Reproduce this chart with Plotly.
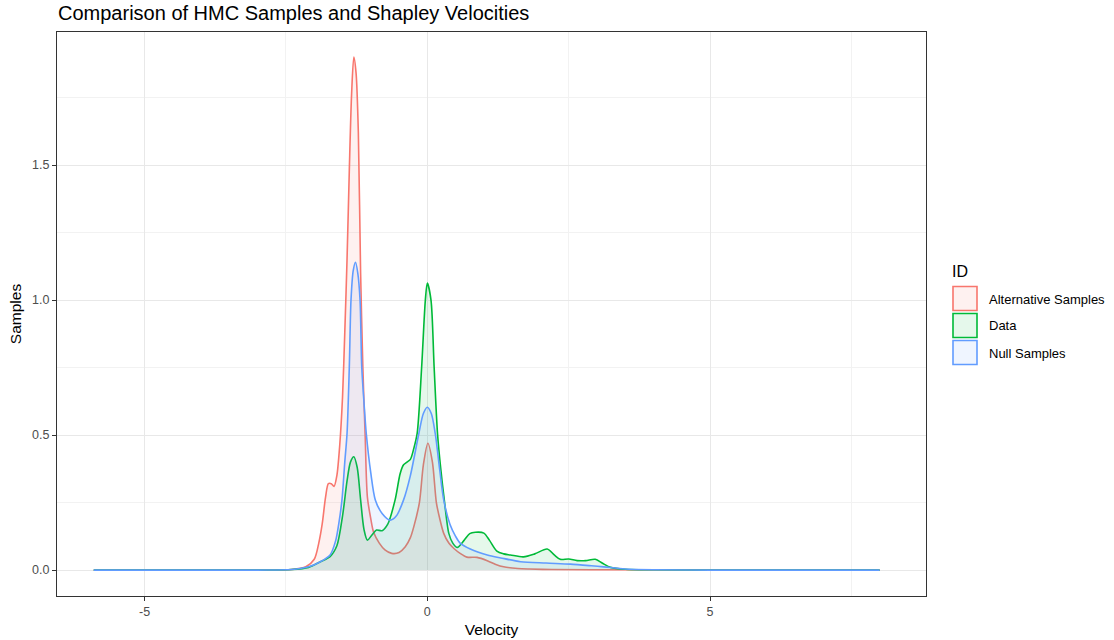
import plotly.graph_objects as go

# ---- data ----
series_names = ["Alternative Samples", "Data", "Null Samples"]

alt_v = [-5.9, -3.0, -2.4, -2.15, -2.0, -1.92, -1.86, -1.8, -1.75, -1.7, -1.65, -1.6, -1.55, -1.5,
         -1.46, -1.42, -1.38, -1.34, -1.30, -1.26, -1.22, -1.18, -1.14, -1.10, -1.06, -1.0, -0.95,
         -0.85, -0.75, -0.63, -0.5, -0.39, -0.3, -0.24, -0.14, -0.07, 0.01, 0.09, 0.16, 0.22, 0.29,
         0.38, 0.47, 0.58, 0.7, 0.88, 1.06, 1.2, 1.35, 1.6, 1.8, 2.2, 3.0, 8.0]
alt_d = [0, 0, 0.002, 0.012, 0.04, 0.10, 0.17, 0.27, 0.32, 0.32, 0.31, 0.35, 0.46, 0.64,
         0.88, 1.15, 1.48, 1.76, 1.90, 1.84, 1.62, 1.10, 0.75, 0.50, 0.27, 0.19, 0.14,
         0.10, 0.075, 0.062, 0.065, 0.086, 0.12, 0.16, 0.25, 0.39, 0.47, 0.40, 0.25, 0.19, 0.136,
         0.10, 0.08, 0.062, 0.048, 0.047, 0.035, 0.022, 0.012, 0.006, 0.004, 0.002, 0.001, 0]

data_v = [-5.9, -3.0, -2.4, -2.1, -1.9, -1.72, -1.6, -1.5, -1.42, -1.36, -1.30, -1.24, -1.18, -1.12,
          -1.06, -0.98, -0.9, -0.8, -0.7, -0.57, -0.48, -0.42, -0.36, -0.3, -0.24, -0.18, -0.1,
          -0.035, 0.0, 0.065, 0.12, 0.18, 0.24, 0.30, 0.38, 0.45, 0.53, 0.65, 0.75, 0.85, 1.0, 1.1,
          1.23, 1.35, 1.47, 1.7, 1.9, 2.12, 2.25, 2.35, 2.5, 2.65, 2.8, 2.97, 3.1, 3.24, 3.5, 4.0,
          5.0, 8.0]
data_d = [0, 0, 0.002, 0.01, 0.03, 0.05, 0.09, 0.2, 0.33, 0.40, 0.42, 0.38, 0.26, 0.15,
          0.111, 0.13, 0.148, 0.146, 0.17, 0.26, 0.358, 0.39, 0.40, 0.41, 0.45, 0.506, 0.753,
          1.0, 1.063, 1.0, 0.753, 0.506, 0.37, 0.26, 0.136, 0.10, 0.084, 0.11, 0.135, 0.14, 0.137, 0.11,
          0.07, 0.06, 0.056, 0.049, 0.06, 0.078, 0.055, 0.04, 0.041, 0.035, 0.035, 0.04, 0.025, 0.01,
          0.003, 0.001, 0, 0]

null_v = [-5.9, -3.0, -2.4, -2.1, -1.9, -1.72, -1.62, -1.56, -1.51, -1.46, -1.42, -1.38, -1.35,
          -1.31, -1.27, -1.23, -1.19, -1.16, -1.12, -1.08, -1.0, -0.92, -0.8, -0.655, -0.55, -0.42,
          -0.3, -0.15, -0.07, 0.0, 0.07, 0.14, 0.22, 0.29, 0.4, 0.5, 0.58, 0.76, 1.06, 1.3, 1.65,
          2.1, 2.53, 2.9, 3.12, 3.5, 4.0, 5.0, 8.0]
null_d = [0, 0, 0.002, 0.012, 0.03, 0.056, 0.11, 0.18, 0.26, 0.40, 0.506, 0.753, 1.0,
          1.11, 1.14, 1.10, 1.0, 0.753, 0.62, 0.506, 0.36, 0.26, 0.21, 0.185, 0.20, 0.26,
          0.35, 0.506, 0.58, 0.603, 0.58, 0.506, 0.37, 0.26, 0.17, 0.125, 0.10, 0.078, 0.056, 0.045, 0.031,
          0.026, 0.022, 0.016, 0.012, 0.004, 0.001, 0, 0]

x_ticks = [-5, 0, 5]
x_tick_labels = ["-5", "0", "5"]
y_ticks = [0.0, 0.5, 1.0, 1.5]
y_tick_labels = ["0.0", "0.5", "1.0", "1.5"]

colors = ["#F8766D", "#00BA38", "#619CFF"]
fills = ["rgba(248,118,109,0.1)", "rgba(0,186,56,0.1)", "rgba(97,156,255,0.1)"]

W, H = 1114, 640
L, R, T, B = 57, 926, 32, 596
FONT = "Liberation Sans, Arial, Helvetica, sans-serif"

fig = go.Figure()
for name, xs, ys, c, f in zip(series_names, [alt_v, data_v, null_v], [alt_d, data_d, null_d], colors, fills):
    fig.add_trace(go.Scatter(
        x=xs, y=ys, name=name, mode="lines",
        line=dict(color=c, width=1.6, shape="spline", smoothing=0.8),
        fill="tozeroy", fillcolor=f, showlegend=False,
        hovertemplate="%{x:.2f}, %{y:.3f}<extra>" + name + "</extra>"))


def pxx(page_x):
    return (page_x - L) / (R - L)


def pxy(page_y):
    return (B - page_y) / (B - T)


# manual ggplot-style legend
shapes = []
annotations = []
annotations.append(dict(text="ID", x=pxx(950), y=pxy(271), xref="paper", yref="paper",
                        xanchor="left", yanchor="middle", showarrow=False,
                        font=dict(family=FONT, size=16, color="black")))
box_tops = [286.5, 313.5, 340.5]
for name, c, f, top in zip(series_names, colors, fills, box_tops):
    shapes.append(dict(type="rect", xref="paper", yref="paper",
                       x0=pxx(953), x1=pxx(977), y0=pxy(top), y1=pxy(top + 24),
                       line=dict(color=c, width=1.6), fillcolor=f))
    annotations.append(dict(text=name, x=pxx(987), y=pxy(top + 12.5), xref="paper", yref="paper",
                            xanchor="left", yanchor="middle", showarrow=False,
                            font=dict(family=FONT, size=13, color="black")))

fig.update_layout(
    width=W, height=H,
    margin=dict(l=L, r=W - R, t=T, b=H - B, autoexpand=False),
    paper_bgcolor="white", plot_bgcolor="white",
    font=dict(family=FONT, color="black"),
    title=dict(text="Comparison of HMC Samples and Shapley Velocities",
               x=58 / W, xanchor="left", xref="container",
               y=1 - 12.5 / H, yanchor="middle", yref="container",
               font=dict(family=FONT, size=20, color="black")),
    shapes=shapes, annotations=annotations,
    showlegend=False,
)

fig.update_xaxes(
    range=[-6.55, 8.82], tickvals=x_ticks, ticktext=x_tick_labels,
    showgrid=True, gridcolor="#E8E8E8", gridwidth=1.1,
    minor=dict(dtick=2.5, tick0=0, showgrid=True, gridcolor="#F2F2F2", gridwidth=0.6),
    zeroline=False, showline=True, mirror=True, linecolor="#333333", linewidth=1,
    ticks="outside", ticklen=4, tickcolor="#333333", tickwidth=1,
    tickfont=dict(family=FONT, size=12.5, color="#4D4D4D"),
    title=dict(text="Velocity", font=dict(family=FONT, size=15.5, color="black"), standoff=6),
)
fig.update_yaxes(
    range=[-0.096, 1.993], tickvals=y_ticks, ticktext=y_tick_labels,
    showgrid=True, gridcolor="#E8E8E8", gridwidth=1.1,
    minor=dict(dtick=0.25, tick0=0, showgrid=True, gridcolor="#F2F2F2", gridwidth=0.6),
    zeroline=False, showline=True, mirror=True, linecolor="#333333", linewidth=1,
    ticks="outside", ticklen=4, tickcolor="#333333", tickwidth=1,
    tickfont=dict(family=FONT, size=12.5, color="#4D4D4D"),
    title=dict(text="Samples", font=dict(family=FONT, size=15.5, color="black"), standoff=6),
)

# remove the default 8px page margin so the figure fills the window exactly
fig.write_html("out.html", config={"displayModeBar": False},
               post_script="document.body.style.margin='0';document.body.style.overflow='hidden';")
